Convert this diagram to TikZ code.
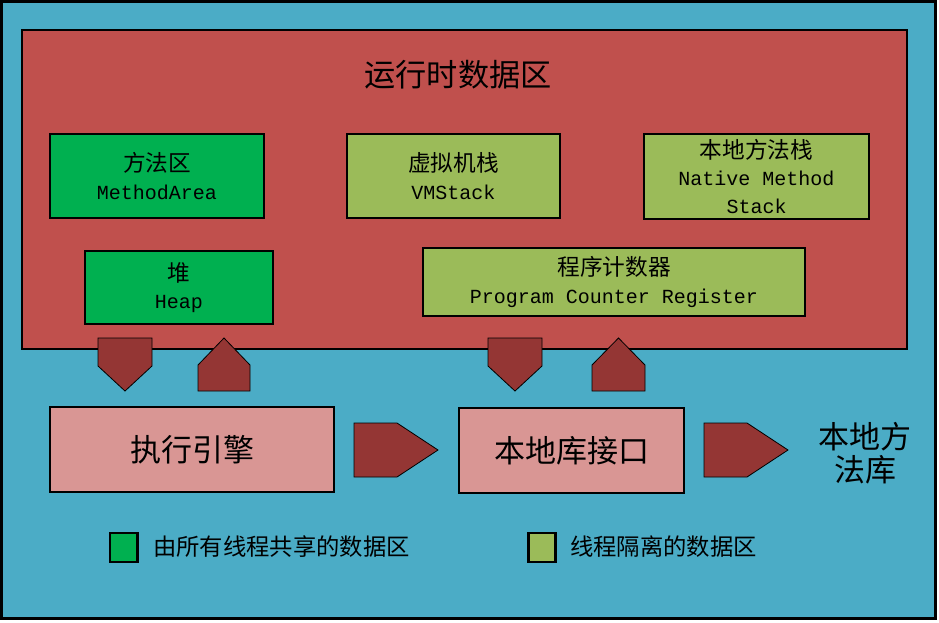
\documentclass[tikz,border=0pt]{standalone}
\usepackage{fontspec}
\newfontfamily\cjk{Noto Sans CJK SC}
\newfontfamily\mono{Liberation Mono}
\definecolor{outerbg}{HTML}{4BACC6}
\definecolor{areared}{HTML}{C0504D}
\definecolor{shgreen}{HTML}{00B050}
\definecolor{isoolive}{HTML}{9BBB59}
\definecolor{engpink}{HTML}{D99694}
\definecolor{arrowred}{HTML}{943634}
\newcommand\cjkl[1]{{\cjk\fontsize{17}{20.5}\selectfont #1}}
\newcommand\monol[1]{{\mono\fontsize{15}{20.5}\selectfont #1}}
\begin{document}
\begin{tikzpicture}[x=0.75pt,y=-0.75pt,
  regbox/.style={draw=black, line width=2pt, inner sep=0pt, align=center,
     font=\fontsize{15}{20.5}\selectfont},
  bigbox/.style={draw=black, fill=engpink, line width=2pt, inner sep=0pt,
     font=\cjk\fontsize{23.25}{28}\selectfont},
  blockarrow/.style={draw=black, line width=0.6pt, fill=arrowred},
  legbox/.style={draw=black, line width=2pt, inner sep=0pt, minimum width=20.5pt, minimum height=21.75pt},
  legtext/.style={anchor=west, inner sep=0pt, font=\cjk\fontsize{17.5}{21}\selectfont}
]
\useasboundingbox (0,0) rectangle (939,622);
\draw[line width=2.25pt, fill=outerbg] (1.5,1.5) rectangle (935,618.5);
\draw[line width=2pt, fill=areared] (22,30) rectangle (907,349);
\node[inner sep=0pt, font=\cjk\fontsize{23.4}{28}\selectfont] (title) at (458,75) {运行时数据区};

\node[regbox, fill=shgreen, minimum width=160.5pt, minimum height=63pt] (method) at (157,176)
  {\cjkl{方法区}\\\monol{MethodArea}};
\node[regbox, fill=shgreen, minimum width=141pt, minimum height=54.75pt] (heap) at (179,287.5)
  {\cjkl{堆}\\\monol{Heap}};
\node[regbox, fill=isoolive, minimum width=159.75pt, minimum height=63pt] (vmstack) at (453.5,176)
  {\cjkl{虚拟机栈}\\\monol{VMStack}};
\node[regbox, fill=isoolive, minimum width=168.75pt, minimum height=63.75pt] (nstack) at (756.5,176.5)
  {\cjkl{本地方法栈}\\\monol{Native Method}\\\monol{Stack}};
\node[regbox, fill=isoolive, minimum width=286.5pt, minimum height=51pt] (pc) at (614,282)
  {\cjkl{程序计数器}\\\monol{Program Counter Register}};

\node[bigbox, minimum width=213pt, minimum height=63.75pt] (engine) at (192,449.5) {执行引擎};
\node[bigbox, minimum width=168.75pt, minimum height=63.75pt] (nif) at (571.5,450.5) {本地库接口};
\node[inner sep=0pt, align=center, font=\cjk\fontsize{23.25}{24.75}\selectfont] (nlib) at (865,453) {本地方\\法库};

% block arrows
\draw[blockarrow] (98,338) -- (152,338) -- (152,366) -- (125,391) -- (98,366) -- cycle;
\draw[blockarrow] (198,391) -- (250,391) -- (250,365) -- (224,338) -- (198,365) -- cycle;
\draw[blockarrow] (488,338) -- (542,338) -- (542,366) -- (515,391) -- (488,366) -- cycle;
\draw[blockarrow] (592,391) -- (645,391) -- (645,365) -- (618.5,338) -- (592,365) -- cycle;
\draw[blockarrow] (354,423) -- (397,423) -- (438,450) -- (397,477) -- (354,477) -- cycle;
\draw[blockarrow] (704,423) -- (747,423) -- (788,450) -- (747,477) -- (704,477) -- cycle;

% legend
\node[legbox, fill=shgreen] (leg1) at (123.5,547.5) {};
\node[legtext] (leg1t) at (153,547) {由所有线程共享的数据区};
\node[legbox, fill=isoolive] (leg2) at (542,547.5) {};
\node[legtext] (leg2t) at (570,547) {线程隔离的数据区};
\end{tikzpicture}
\end{document}
